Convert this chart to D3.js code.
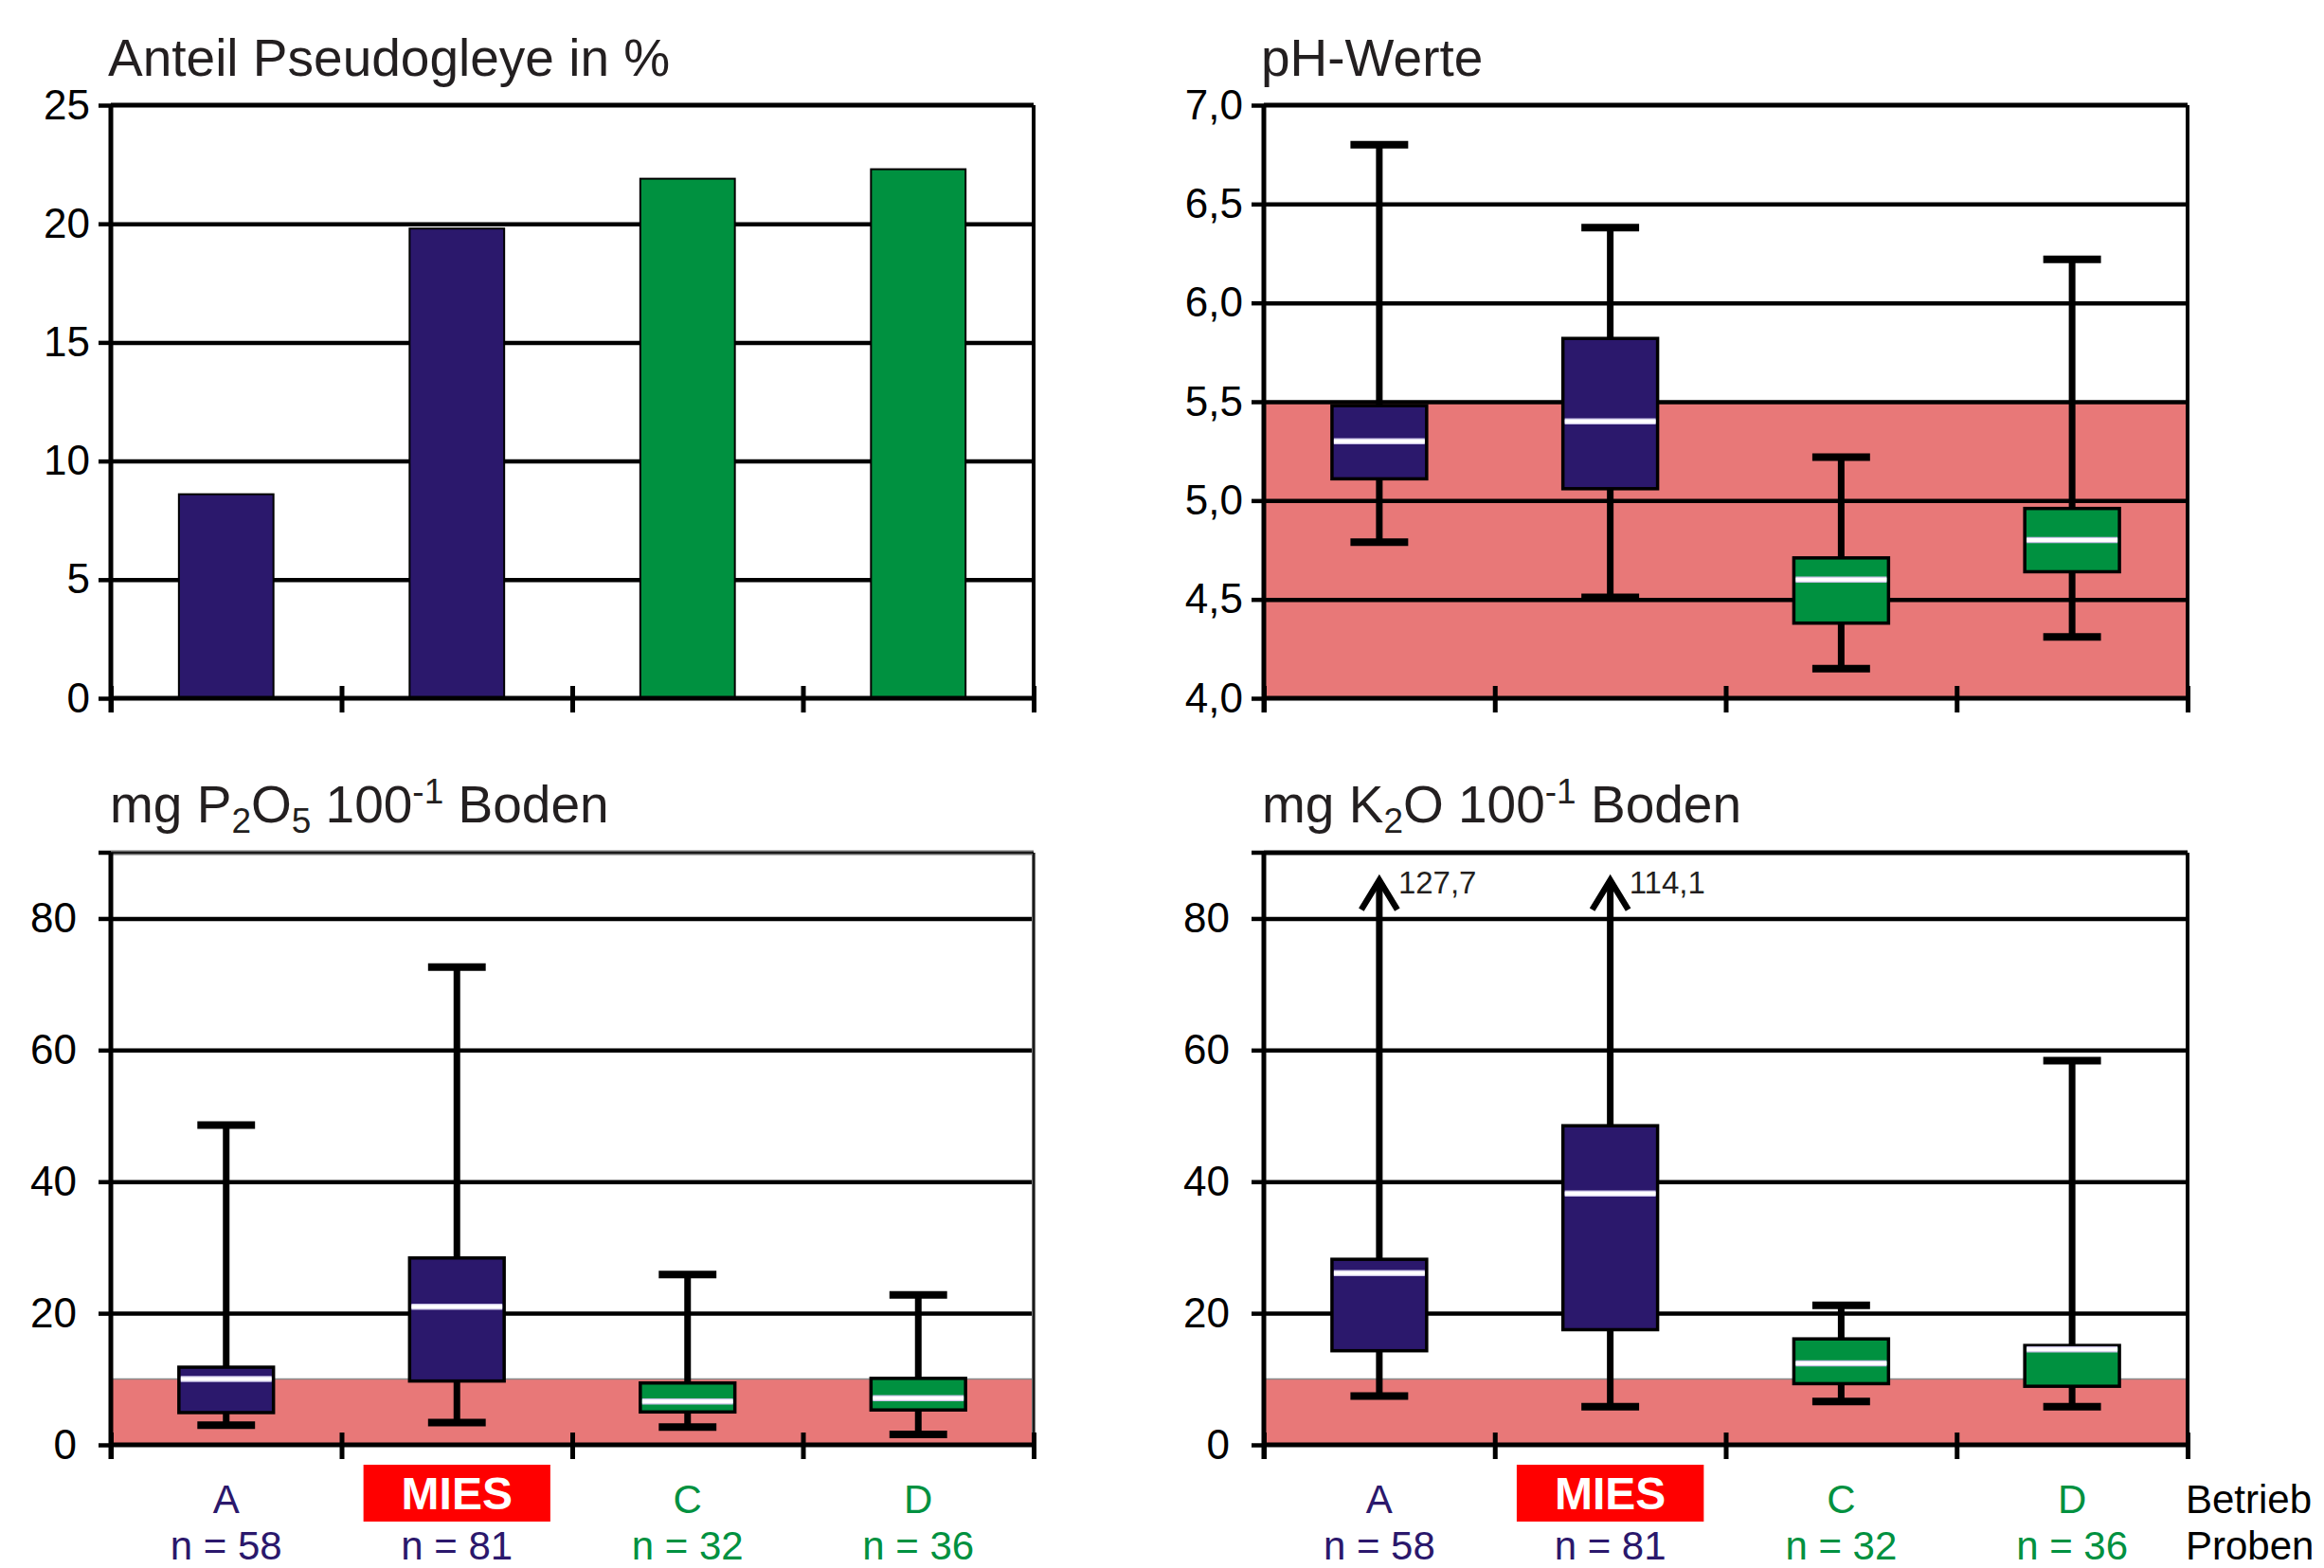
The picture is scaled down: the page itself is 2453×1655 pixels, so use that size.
<!DOCTYPE html>
<html>
<head>
<meta charset="utf-8">
<script src="https://cdn.jsdelivr.net/npm/d3@7/dist/d3.min.js"></script>
<style>
  html, body { margin: 0; padding: 0; background: #fff; }
  svg text { font-family: "Liberation Sans", Arial, Helvetica, sans-serif; }
</style>
</head>
<body>
<svg id="chart" width="2453" height="1655"></svg>
<script>
// ---------------- DATA ----------------
const categories   = ["A", "MIES", "C", "D"];
const sampleSizes  = [58, 81, 32, 36];

// Anteil Pseudogleye in %
const pseudogleyShare = [8.6, 19.8, 21.9, 22.3];
const pseudoTicks     = [0, 5, 10, 15, 20, 25];

// pH-Werte (boxplot: low whisker, Q1, median, Q3, high whisker)
const phLow    = [4.79, 4.51, 4.15, 4.31];
const phQ1     = [5.11, 5.06, 4.38, 4.64];
const phMedian = [5.30, 5.40, 4.60, 4.80];
const phQ3     = [5.48, 5.82, 4.71, 4.96];
const phHigh   = [6.80, 6.38, 5.22, 6.22];
const phTicks  = [4.0, 4.5, 5.0, 5.5, 6.0, 6.5, 7.0];
const phCritical = 5.5;

// mg P2O5 100^-1 Boden
const pLow    = [3.0, 3.4, 2.7, 1.6];
const pQ1     = [4.9, 9.7, 5.0, 5.3];
const pMedian = [10.0, 21.0, 6.6, 7.1];
const pQ3     = [11.8, 28.4, 9.4, 10.1];
const pHigh   = [48.6, 72.6, 25.9, 22.8];

// mg K2O 100^-1 Boden
const kLow    = [7.4, 5.8, 6.6, 5.8];
const kQ1     = [14.3, 17.5, 9.3, 8.9];
const kMedian = [26.1, 38.2, 12.4, 14.5];
const kQ3     = [28.2, 48.5, 16.1, 15.1];
const kHigh   = [127.7, 114.1, 21.2, 58.4];

const nutrientTicks    = [0, 20, 40, 60, 80];
const nutrientMax      = 90;
const nutrientCritical = 10;
const arrowCapValue    = 86.1;   // where off-scale whiskers are cut with an arrow

// ---------------- STYLE ----------------
const NAVY = "#2B186C", GREEN = "#009140", BAND = "#E87878";
const catColor = c => (c === "A" || c === "MIES") ? NAVY : GREEN;
const commaFmt = v => d3.format(".1f")(v).replace(".", ",");

const svg = d3.select("#chart");
svg.append("rect").attr("width", 2453).attr("height", 1655).attr("fill", "#fff");

function makePanel(o) {
  const g = svg.append("g");
  const x = d3.scaleBand().domain(categories).range([o.left, o.right]).paddingInner(0).paddingOuter(0);
  const y = d3.scaleLinear().domain(o.domain).range([o.bottom, o.top]);
  const edge = d3.scaleLinear().domain([0, categories.length]).range([o.left, o.right]);

  if (o.band != null) {
    g.append("rect").attr("x", o.left).attr("width", o.right - o.left)
      .attr("y", y(o.band)).attr("height", y(o.domain[0]) - y(o.band)).attr("fill", BAND);
    g.append("line").attr("x1", o.left).attr("x2", o.right)
      .attr("y1", y(o.band)).attr("y2", y(o.band)).attr("stroke", "#8a8a8a").attr("stroke-width", 1.5);
  }
  g.append("g").attr("transform", `translate(${o.left},0)`)
    .call(d3.axisLeft(y).tickValues(o.grid).tickSize(-(o.right - o.left)).tickFormat(""))
    .call(s => s.select(".domain").remove())
    .call(s => s.selectAll(".tick line").attr("stroke", "#000").attr("stroke-width", 4.5));

  const t = svg.append("text").attr("x", o.titleX).attr("y", o.titleY)
    .attr("font-size", 55).attr("fill", "#231F20");
  o.titleParts.forEach(p => {
    const ts = t.append("tspan").text(p.t);
    if (p.sub) ts.attr("font-size", 37).attr("dy", 11);
    if (p.sup) ts.attr("font-size", 37).attr("dy", -20);
    if (p.reset) ts.attr("dy", p.reset);
  });

  return { g, x, y, edge, o };
}

function finishPanel(P) {
  const { g, y, edge, o } = P;
  const frameColor = o.grayFrame ? "#6e6e6e" : "#000";
  g.append("line").attr("x1", o.left).attr("x2", o.right).attr("y1", o.top).attr("y2", o.top)
    .attr("stroke", frameColor).attr("stroke-width", 5);
  g.append("line").attr("x1", o.right).attr("x2", o.right).attr("y1", o.top).attr("y2", o.bottom)
    .attr("stroke", frameColor).attr("stroke-width", 4);
  if (o.grayFrame) {
    g.append("line").attr("x1", o.left).attr("x2", o.right).attr("y1", o.top).attr("y2", o.top)
      .attr("stroke", "#000").attr("stroke-width", 1.5);
    g.append("line").attr("x1", o.right).attr("x2", o.right).attr("y1", o.top).attr("y2", o.bottom)
      .attr("stroke", "#000").attr("stroke-width", 1.5);
  }
  g.append("g").attr("transform", `translate(${o.left},0)`)
    .call(d3.axisLeft(y).tickValues(o.yTicks).tickSize(13).tickPadding(o.labelGap).tickFormat(o.fmt))
    .call(s => s.select(".domain").attr("stroke", "#000").attr("stroke-width", 5)
      .attr("d", `M0,${o.top}V${o.bottom + 15}`))
    .call(s => s.selectAll(".tick line").attr("stroke", "#000").attr("stroke-width", 4.5))
    .call(s => s.selectAll(".tick text").attr("font-size", 44).attr("fill", "#000")
      .style("font-family", '"Liberation Sans", Arial, sans-serif'));
  if (o.extraTop != null) {
    g.append("line").attr("x1", o.left - 13).attr("x2", o.left).attr("y1", y(o.extraTop)).attr("y2", y(o.extraTop))
      .attr("stroke", "#000").attr("stroke-width", 4.5);
  }
  g.append("g").attr("transform", `translate(0,${o.bottom})`)
    .call(d3.axisBottom(edge).tickValues(d3.range(categories.length + 1)).tickSize(15).tickFormat(""))
    .call(s => s.select(".domain").attr("stroke", "#000").attr("stroke-width", 5)
      .attr("d", `M${o.left},0H${o.right}`))
    .call(s => s.selectAll(".tick line").attr("stroke", "#000").attr("stroke-width", 5).attr("y1", -13));
}

function drawBoxes(P, low, q1, med, q3, high, capValue) {
  const { g, x, y } = P;
  const bw = x.bandwidth() * 0.41, cw = x.bandwidth() * 0.25;
  categories.forEach((c, i) => {
    const xc = x(c) + x.bandwidth() / 2;
    const truncated = capValue != null && high[i] > capValue;
    const topVal = truncated ? capValue : high[i];
    g.append("line").attr("x1", xc).attr("x2", xc).attr("y1", y(low[i])).attr("y2", y(topVal) + (truncated ? 3 : 0))
      .attr("stroke", "#000").attr("stroke-width", 7);
    g.append("line").attr("x1", xc - cw / 2).attr("x2", xc + cw / 2).attr("y1", y(low[i])).attr("y2", y(low[i]))
      .attr("stroke", "#000").attr("stroke-width", 8);
    if (!truncated) {
      g.append("line").attr("x1", xc - cw / 2).attr("x2", xc + cw / 2).attr("y1", y(high[i])).attr("y2", y(high[i]))
        .attr("stroke", "#000").attr("stroke-width", 8);
    } else {
      const ty = y(capValue);
      g.append("path").attr("d", `M${xc - 19},${ty + 33}L${xc},${ty + 2}L${xc + 19},${ty + 33}`)
        .attr("fill", "none").attr("stroke", "#000").attr("stroke-width", 6.5);
      g.append("text").attr("x", xc + 20).attr("y", ty + 16).attr("font-size", 33).attr("fill", "#231F20")
        .text(commaFmt(high[i]));
    }
    g.append("rect").attr("x", xc - bw / 2).attr("width", bw)
      .attr("y", y(q3[i])).attr("height", y(q1[i]) - y(q3[i]))
      .attr("fill", catColor(c)).attr("stroke", "#000").attr("stroke-width", 3.5);
    g.append("line").attr("x1", xc - bw / 2 + 2).attr("x2", xc + bw / 2 - 2).attr("y1", y(med[i])).attr("y2", y(med[i]))
      .attr("stroke", "#c9c2e6").attr("stroke-width", 6.5);
    g.append("line").attr("x1", xc - bw / 2 + 2).attr("x2", xc + bw / 2 - 2).attr("y1", y(med[i])).attr("y2", y(med[i]))
      .attr("stroke", "#fff").attr("stroke-width", 4);
  });
}

function drawCategoryLabels(P, withRowTitles) {
  const { x } = P;
  const row1 = 1597, row2 = 1646, fs = 42;
  categories.forEach((c, i) => {
    const xc = x(c) + x.bandwidth() / 2;
    if (c === "MIES") {
      const w = x.bandwidth() * 0.81;
      svg.append("rect").attr("x", xc - w / 2).attr("width", w).attr("y", 1546).attr("height", 60).attr("fill", "#FF0000");
      svg.append("text").attr("x", xc).attr("y", 1593).attr("text-anchor", "middle")
        .attr("font-size", 48).attr("font-weight", "bold").attr("fill", "#fff").text(c);
    } else {
      svg.append("text").attr("x", xc).attr("y", row1).attr("text-anchor", "middle")
        .attr("font-size", fs).attr("fill", catColor(c)).text(c);
    }
    svg.append("text").attr("x", xc).attr("y", row2).attr("text-anchor", "middle")
      .attr("font-size", fs).attr("fill", catColor(c)).text("n = " + sampleSizes[i]);
  });
  if (withRowTitles) {
    svg.append("text").attr("x", 2307).attr("y", row1).attr("font-size", fs).attr("fill", "#000").text("Betrieb");
    svg.append("text").attr("x", 2307).attr("y", row2).attr("font-size", fs).attr("fill", "#000").text("Proben");
  }
}

// ---------- Panel 1: Anteil Pseudogleye ----------
const P1 = makePanel({
  left: 117, right: 1091, top: 111, bottom: 737, domain: [0, 25],
  grid: [5, 10, 15, 20], yTicks: pseudoTicks, fmt: d3.format("d"), labelGap: 9,
  titleX: 114, titleY: 80, titleParts: [{ t: "Anteil Pseudogleye in %" }]
});
{
  const bw = P1.x.bandwidth() * 0.41;
  P1.g.selectAll("rect.bar").data(pseudogleyShare).enter().append("rect").attr("class", "bar")
    .attr("x", (d, i) => P1.x(categories[i]) + P1.x.bandwidth() / 2 - bw / 2)
    .attr("width", bw)
    .attr("y", d => P1.y(d)).attr("height", d => P1.y(0) - P1.y(d))
    .attr("fill", (d, i) => catColor(categories[i])).attr("stroke", "#000").attr("stroke-width", 2);
}
finishPanel(P1);

// ---------- Panel 2: pH ----------
const P2 = makePanel({
  left: 1334, right: 2309, top: 111, bottom: 737, domain: [4.0, 7.0], band: phCritical,
  grid: [4.5, 5.0, 5.5, 6.0, 6.5], yTicks: phTicks, fmt: commaFmt, labelGap: 9,
  titleX: 1331, titleY: 80, titleParts: [{ t: "pH-Werte" }]
});
drawBoxes(P2, phLow, phQ1, phMedian, phQ3, phHigh, null);
finishPanel(P2);

// ---------- Panel 3: P2O5 ----------
const P3 = makePanel({
  left: 117, right: 1091, top: 900, bottom: 1525, domain: [0, nutrientMax], band: nutrientCritical,
  grid: [20, 40, 60, 80], yTicks: nutrientTicks, fmt: d3.format("d"), labelGap: 23, extraTop: nutrientMax,
  grayFrame: true,
  titleX: 116, titleY: 868,
  titleParts: [{ t: "mg P" }, { t: "2", sub: true }, { t: "O", reset: -11 }, { t: "5", sub: true },
               { t: " 100", reset: -11 }, { t: "-1", sup: true }, { t: " Boden", reset: 20 }]
});
drawBoxes(P3, pLow, pQ1, pMedian, pQ3, pHigh, null);
finishPanel(P3);
drawCategoryLabels(P3, false);

// ---------- Panel 4: K2O ----------
const P4 = makePanel({
  left: 1334, right: 2309, top: 900, bottom: 1525, domain: [0, nutrientMax], band: nutrientCritical,
  grid: [20, 40, 60, 80], yTicks: nutrientTicks, fmt: d3.format("d"), labelGap: 23, extraTop: nutrientMax,
  titleX: 1332, titleY: 868,
  titleParts: [{ t: "mg K" }, { t: "2", sub: true }, { t: "O 100", reset: -11 }, { t: "-1", sup: true },
               { t: " Boden", reset: 20 }]
});
drawBoxes(P4, kLow, kQ1, kMedian, kQ3, kHigh, arrowCapValue);
finishPanel(P4);
drawCategoryLabels(P4, true);
</script>
</body>
</html>
